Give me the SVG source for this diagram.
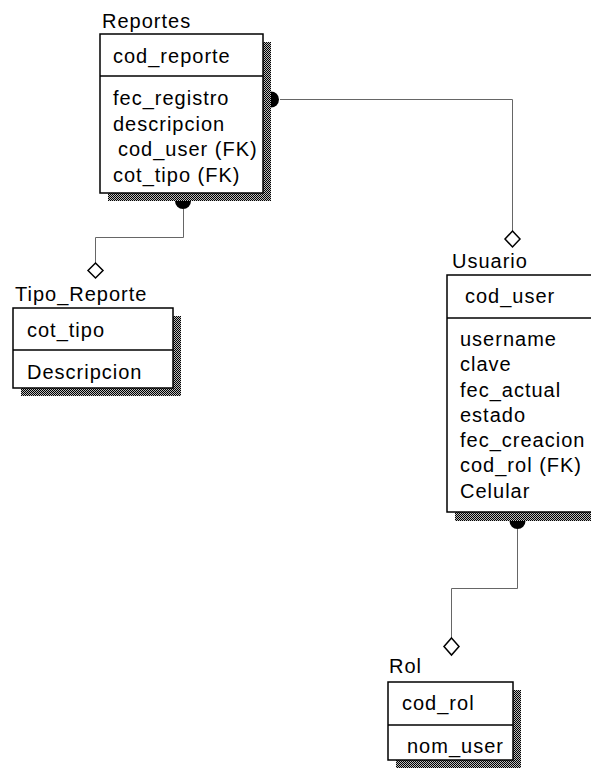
<svg xmlns="http://www.w3.org/2000/svg" width="591" height="770" viewBox="0 0 591 770">
<style>
text{font-family:"Liberation Sans",Arial,sans-serif;font-size:20px;letter-spacing:1px;fill:#000}
.box{fill:#fff;stroke:#000;stroke-width:1.5}
.sep{stroke:#000;stroke-width:1.5}
.shadow{fill:url(#dither)}
.conn{fill:none;stroke:#666;stroke-width:1}
.dia{fill:#fff;stroke:#000;stroke-width:1.5}
.dot{fill:#000}
</style>
<defs>
<pattern id="dither" width="2" height="2" patternUnits="userSpaceOnUse">
<rect width="2" height="2" fill="#bbb"/>
<rect width="1" height="1" fill="#000"/>
<rect x="1" y="1" width="1" height="1" fill="#000"/>
</pattern>
</defs>
<rect width="591" height="770" fill="#fff"/>
<g id="connectors">
<path class="conn" d="M280 99.5H512.5V231"/>
<path class="dot" d="M271 91.5A8 8 0 0 1 271 107.5Z"/>
<path class="dia" d="M512.5 231L520 239L512.5 247L505 239Z"/>
<path class="conn" d="M183.5 209V237.5H95.5V263"/>
<path class="dot" d="M175 201A8 8 0 0 0 191 201Z"/>
<path class="dia" d="M95.5 263L103 270.5L95.5 278L88 270.5Z"/>
<path class="conn" d="M517.5 529V588.5H451.5V638"/>
<path class="dot" d="M509.5 521A8 8 0 0 0 525.5 521Z"/>
<path class="dia" d="M451.5 638L459 646.5L451.5 655L444 646.5Z"/>
</g>
<g id="Reportes">
<rect class="shadow" x="108" y="42" width="163" height="159"/>
<rect class="box" x="100" y="34" width="163" height="159"/>
<line class="sep" x1="100" y1="76" x2="263" y2="76"/>
<text x="102" y="28">Reportes</text>
<text x="113" y="63">cod_reporte</text>
<text x="113" y="105">fec_registro</text>
<text x="113" y="131">descripcion</text>
<text x="118" y="156">cod_user (FK)</text>
<text x="113" y="182">cot_tipo (FK)</text>
</g>
<g id="Tipo_Reporte">
<rect class="shadow" x="21" y="316" width="160" height="80"/>
<rect class="box" x="13" y="308" width="160" height="80"/>
<line class="sep" x1="13" y1="350" x2="173" y2="350"/>
<text x="15" y="301">Tipo_Reporte</text>
<text x="27" y="337">cot_tipo</text>
<text x="27" y="379">Descripcion</text>
</g>
<g id="Usuario">
<rect class="shadow" x="455" y="283" width="150" height="238"/>
<rect class="box" x="447" y="275" width="160" height="237"/>
<line class="sep" x1="447" y1="318" x2="607" y2="318"/>
<text x="452" y="268">Usuario</text>
<text x="465" y="303">cod_user</text>
<text x="460" y="346">username</text>
<text x="460" y="371">clave</text>
<text x="460" y="397">fec_actual</text>
<text x="460" y="422">estado</text>
<text x="460" y="447">fec_creacion</text>
<text x="460" y="472">cod_rol (FK)</text>
<text x="460" y="498">Celular</text>
</g>
<g id="Rol">
<rect class="shadow" x="396" y="690" width="125" height="78"/>
<rect class="box" x="388" y="682" width="125" height="78"/>
<line class="sep" x1="388" y1="725" x2="513" y2="725"/>
<text x="389" y="673">Rol</text>
<text x="402" y="710">cod_rol</text>
<text x="407" y="753">nom_user</text>
</g>
</svg>
